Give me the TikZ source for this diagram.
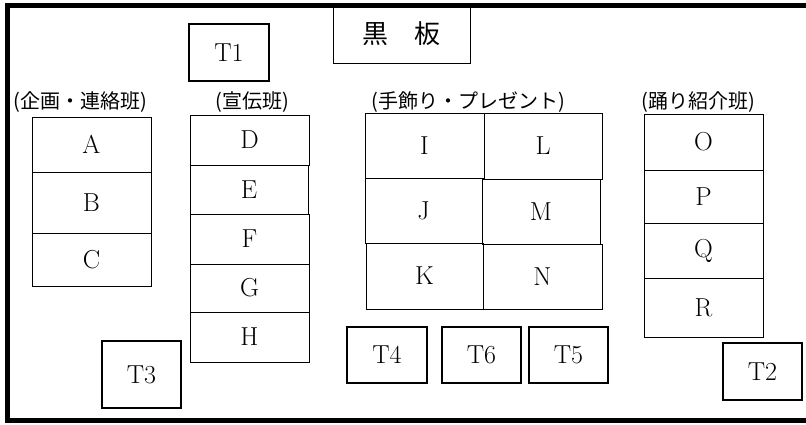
\documentclass[tikz,border=0pt]{standalone}
\usepackage{fontspec}
\newfontfamily\jp{Noto Sans CJK JP}
\tikzset{
  cell/.style={draw=black, line width=1pt, inner sep=0pt, outer sep=0pt, font=\fontsize{26}{28}\selectfont},
  tbox/.style={draw=black, line width=1.7pt, inner sep=0pt, outer sep=0pt, font=\fontsize{26}{28}\selectfont},
  board/.style={draw=black, line width=1pt, inner sep=0pt, outer sep=0pt, font=\jp\fontsize{26}{28}\selectfont},
  lab/.style={inner sep=0pt, font=\jp\fontsize{20}{22}\selectfont},
  frame/.style={draw=black, line width=5pt}
}
\newcommand\mkbox[7]{\node[#1, minimum width={#5-#3}, minimum height={#6-#4}] (#2) at ({(#3+#5)/2},{(#4+#6)/2}) {#7};}
\begin{document}
\begin{tikzpicture}[x=1pt,y=-1pt]
\useasboundingbox (0,0) rectangle (806,424);
\clip (0,0) rectangle (806,424);
% blackboard
\mkbox{board}{kokuban}{333}{5}{470}{63}{黒　板}
% group labels
\node[lab] (l1) at (80,102) {(企画・連絡班)};
\node[lab] (l2) at (252,102) {(宣伝班)};
\node[lab] (l3) at (468,102) {(手飾り・プレゼント)};
\node[lab] (l4) at (698,102) {(踊り紹介班)};
% left group
\mkbox{cell}{A}{32}{117}{151}{172}{A}
\mkbox{cell}{B}{32}{172}{151}{233}{B}
\mkbox{cell}{C}{32}{233}{151}{286}{C}
% second group
\mkbox{cell}{D}{190}{115}{309}{165}{D}
\mkbox{cell}{E}{190}{165}{308}{214}{E}
\mkbox{cell}{F}{190}{214}{309}{264}{F}
\mkbox{cell}{G}{190}{264}{309}{312}{G}
\mkbox{cell}{H}{190}{312}{309}{362}{H}
% middle group
\mkbox{cell}{I}{365}{113}{484}{178}{I}
\mkbox{cell}{L}{484}{113}{602}{179}{L}
\mkbox{cell}{J}{365}{178}{482}{243}{J}
\mkbox{cell}{M}{482}{179}{600}{244}{M}
\mkbox{cell}{K}{366}{243}{483}{309}{K}
\mkbox{cell}{N}{483}{244}{602}{309}{N}
% right group
\mkbox{cell}{O}{644}{114}{763}{170}{O}
\mkbox{cell}{P}{644}{170}{763}{223}{P}
\mkbox{cell}{Q}{644}{223}{763}{278}{Q}
\mkbox{cell}{R}{644}{278}{763}{337}{R}
% teacher boxes
\mkbox{tbox}{T1}{189}{24}{269}{81}{T1}
\mkbox{tbox}{T2}{723}{343}{802}{400}{T2}
\mkbox{tbox}{T3}{102}{341}{181}{408}{T3}
\mkbox{tbox}{T4}{347}{327}{427}{383}{T4}
\mkbox{tbox}{T6}{442}{327}{521}{383}{T6}
\mkbox{tbox}{T5}{529}{327}{608}{383}{T5}
% room frame (open to the right edge)
\coordinate (fr1) at (820,5.5);
\coordinate (fr2) at (7.5,5.5);
\coordinate (fr3) at (7.5,420);
\coordinate (fr4) at (820,420);
\draw[frame] (fr1) -- (fr2) -- (fr3) -- (fr4);
\end{tikzpicture}
\end{document}
